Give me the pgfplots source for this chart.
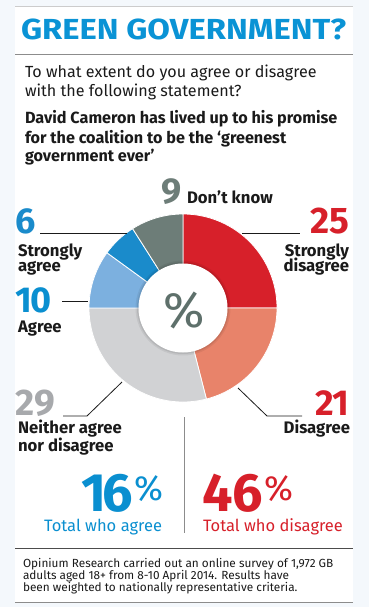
\documentclass[border=0pt]{standalone}
\usepackage{fontspec}
\setmainfont{Fira Sans}[Numbers=Proportional]
\usepackage{pgfplots}
\pgfplotsset{compat=1.18}
\definecolor{bgout}{HTML}{F4F8FC}
\definecolor{csd}{HTML}{D7202A}
\definecolor{cd}{HTML}{E8836A}
\definecolor{cn}{HTML}{D1D2D4}
\definecolor{ca}{HTML}{7CB0DF}
\definecolor{csa}{HTML}{1A8BCB}
\definecolor{cdk}{HTML}{6D7D78}
\definecolor{cpct}{HTML}{5E706B}
\definecolor{ctitle}{HTML}{0A93D5}
\definecolor{cblue}{HTML}{0A8FD0}
\definecolor{cgrey}{HTML}{A7A9AC}
\definecolor{ctext}{HTML}{1A1A1A}
\newcommand\fs[1]{\fontsize{#1}{#1}\selectfont}
\begin{document}
\begin{tikzpicture}[every node/.style={inner sep=0pt, outer sep=0pt}]
\begin{axis}[hide axis, scale only axis, width=369pt, height=607pt,
  xmin=0, xmax=369, ymin=0, ymax=607, y dir=reverse, clip=false]
% panels
\fill[bgout] (axis cs:0,0) rectangle (axis cs:369,607);
\fill[white] (axis cs:15,6) rectangle (axis cs:353,602);
\draw[line width=0.8pt, black!20] (axis cs:15,6) -- (axis cs:353,6);
\draw[line width=1pt, black!45] (axis cs:15,55) -- (axis cs:353,55);
\draw[line width=1pt, black!70] (axis cs:15,548) -- (axis cs:353,548);
\draw[line width=1pt, black!45] (axis cs:15,602) -- (axis cs:353,602);
% title and text
\node[anchor=base west, text=ctitle, font=\fs{29}\bfseries] at (axis cs:21,40) {\scalebox{1.13}[1]{GREEN GOVERNMENT?}};
\node[anchor=base west, text=ctext, font=\fs{16.1}] at (axis cs:25,78) {To what extent do you agree or disagree};
\node[anchor=base west, text=ctext, font=\fs{16.1}] at (axis cs:25,97) {with the following statement?};
\node[anchor=base west, text=ctext, font=\fs{16.2}\bfseries] at (axis cs:25,124) {David Cameron has lived up to his promise};
\node[anchor=base west, text=ctext, font=\fs{16.2}\bfseries] at (axis cs:25,143) {for the coalition to be the ‘greenest};
\node[anchor=base west, text=ctext, font=\fs{16.2}\bfseries] at (axis cs:25,161) {government ever’};
% donut (values: 25, 21, 29, 10, 6, 9)
\addplot[fill=csd, draw=white, line width=0.8pt, domain=0:25, samples=80] ({183+94*sin(3.6*x)},{308-94*cos(3.6*x)}) -- (axis cs:183,308) -- cycle;
\addplot[fill=cd, draw=white, line width=0.8pt, domain=25:46, samples=80] ({183+94*sin(3.6*x)},{308-94*cos(3.6*x)}) -- (axis cs:183,308) -- cycle;
\addplot[fill=cn, draw=white, line width=0.8pt, domain=46:75, samples=80] ({183+94*sin(3.6*x)},{308-94*cos(3.6*x)}) -- (axis cs:183,308) -- cycle;
\addplot[fill=ca, draw=white, line width=0.8pt, domain=75:85, samples=40] ({183+94*sin(3.6*x)},{308-94*cos(3.6*x)}) -- (axis cs:183,308) -- cycle;
\addplot[fill=csa, draw=white, line width=0.8pt, domain=85:91, samples=30] ({183+94*sin(3.6*x)},{308-94*cos(3.6*x)}) -- (axis cs:183,308) -- cycle;
\addplot[fill=cdk, draw=white, line width=0.8pt, domain=91:100, samples=40] ({183+94*sin(3.6*x)},{308-94*cos(3.6*x)}) -- (axis cs:183,308) -- cycle;
\fill[black, opacity=0.06] (axis cs:183,308) circle[radius=47.5];
\fill[black, opacity=0.08] (axis cs:183,308) circle[radius=46];
\fill[white] (axis cs:183,308) circle[radius=44.5];
\node[text=cpct, font=\fs{50}] at (axis cs:184,310) {\%};
% leader lines
\draw[line width=0.8pt, ctext] (axis cs:40,233) -- (axis cs:127,233);
\draw[line width=0.8pt, ctext] (axis cs:62,301) -- (axis cs:88,301);
\draw[line width=0.8pt, ctext] (axis cs:242,233) -- (axis cs:300,233);
\draw[line width=0.8pt, ctext] (axis cs:63,416) -- (axis cs:87,416) -- (axis cs:122,382);
\draw[line width=0.8pt, ctext] (axis cs:238,388) -- (axis cs:267,416) -- (axis cs:302,416);
\draw[line width=1pt, black!45] (axis cs:184,417) -- (axis cs:184,533);
% labels
\node[anchor=base east, text=cdk, font=\fs{36}\bfseries] at (axis cs:182,203) {9};
\node[anchor=base west, text=ctext, font=\fs{16.7}\bfseries] at (axis cs:187,203) {Don't know};
\node[anchor=base west, text=csa, font=\fs{36}\bfseries] at (axis cs:16,233) {6};
\node[anchor=base west, text=ctext, font=\fs{16.7}\bfseries] at (axis cs:18,256) {Strongly};
\node[anchor=base west, text=ctext, font=\fs{16.7}\bfseries] at (axis cs:18,271) {agree};
\node[anchor=base west, text=cblue, font=\fs{36}\bfseries] at (axis cs:16,312) {1\kern-2pt 0};
\node[anchor=base west, text=ctext, font=\fs{16.7}\bfseries] at (axis cs:18,332) {Agree};
\node[anchor=base east, text=csd, font=\fs{37}\bfseries] at (axis cs:349,233) {25};
\node[anchor=base east, text=ctext, font=\fs{16.7}\bfseries] at (axis cs:349,256) {Strongly};
\node[anchor=base east, text=ctext, font=\fs{16.7}\bfseries] at (axis cs:349,271) {disagree};
\node[anchor=base west, text=cgrey, font=\fs{37}\bfseries] at (axis cs:16,415) {29};
\node[anchor=base west, text=ctext, font=\fs{16.7}\bfseries] at (axis cs:18,433) {Neither agree};
\node[anchor=base west, text=ctext, font=\fs{16.7}\bfseries] at (axis cs:18,451) {nor disagree};
\node[anchor=base east, text=csd, font=\fs{36}\bfseries] at (axis cs:349,415) {2\kern-2pt 1};
\node[anchor=base east, text=ctext, font=\fs{16.7}\bfseries] at (axis cs:350,433) {Disagree};
% totals
\node[anchor=base east, text=cblue, font=\fs{54}\bfseries] at (axis cs:163,511) {1\kern-4pt 6\hspace{1.5pt}\raisebox{11pt}{\fs{35}\mdseries\%}};
\node[anchor=base east, text=cblue, font=\fs{16.5}] at (axis cs:162,531) {Total who agree};
\node[anchor=base west, text=csd, font=\fs{54}\bfseries] at (axis cs:202,511) {46\hspace{1.5pt}\raisebox{11pt}{\fs{35}\mdseries\%}};
\node[anchor=base west, text=csd, font=\fs{16.5}] at (axis cs:203,531) {Total who disagree};
% footnote
\node[anchor=base west, text=ctext, font=\fs{11.8}] at (axis cs:23,567) {Opinium Research carried out an online survey of 1,972 GB};
\node[anchor=base west, text=ctext, font=\fs{11.8}] at (axis cs:23,579) {adults aged 18+ from 8-10 April 2014. Results have};
\node[anchor=base west, text=ctext, font=\fs{11.8}] at (axis cs:23,591) {been weighted to nationally representative criteria.};
\end{axis}
\end{tikzpicture}
\end{document}
